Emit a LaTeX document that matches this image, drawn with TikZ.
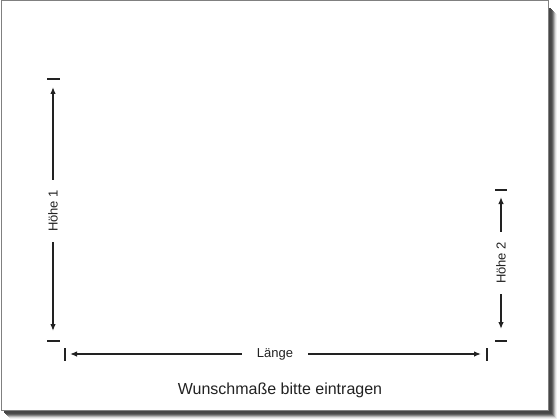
\documentclass[tikz,border=0pt]{standalone}
\usepackage{fontspec}
\setmainfont{Liberation Sans}
\usetikzlibrary{arrows.meta}
\tikzset{
	>={Latex[length=7pt,width=5.5pt]},
}
\definecolor{ink}{HTML}{222222}
\begin{document}
\begin{tikzpicture}[
		x=1pt,y=-1pt,
		dim/.style={draw=ink,line width=1.3pt,->},
		lbl/.style={fill=white,text=ink,font=\fontsize{13}{15}\selectfont,inner xsep=10pt,inner ysep=2pt},
		tick/.style={draw=ink,line width=1.3pt},
	]
	\useasboundingbox (0,0) rectangle (560,420);
	% shadow and sheet
	\foreach \o/\c in {9/black!6,8/black!15,7/black!30,6/black!48,5/black!62,4/black!70,3/black!72}
		\fill[\c] (4+\o-3,8+\o-3) rectangle (548+\o,410+\o);
	\fill[white] (1,1) rectangle (548,410);
	\draw[black!50,line width=1pt] (1,1) rectangle (548,410);
	% Hoehe 1
	\node(h1)[lbl,rotate=90] at (53,211) {Höhe 1};
	\coordinate(h1top) at (53,87);
	\coordinate(h1bot) at (53,331);
	\draw[tick] (47,79) -- (60,79);
	\draw[tick] (47,341) -- (60,341);
	\draw[dim] (h1) -- (h1top);
	\draw[dim] (h1) -- (h1bot);
	% Hoehe 2
	\node(h2)[lbl,rotate=90] at (501,263) {Höhe 2};
	\coordinate(h2top) at (501,197);
	\coordinate(h2bot) at (501,329);
	\draw[tick] (495,190) -- (507,190);
	\draw[tick] (495,341) -- (507,341);
	\draw[dim] (h2) -- (h2top);
	\draw[dim] (h2) -- (h2bot);
	% Laenge
	\node(len)[lbl,inner xsep=15pt] at (275,354) {Länge};
	\coordinate(lenl) at (70,354);
	\coordinate(lenr) at (481,354);
	\draw[tick] (65,348) -- (65,361);
	\draw[tick] (487,348) -- (487,361);
	\draw[dim] (len) -- (lenl);
	\draw[dim] (len) -- (lenr);
	% caption
	\node(note)[text=ink,font=\fontsize{16}{18}\selectfont] at (280,390) {Wunschmaße bitte eintragen};
\end{tikzpicture}
\end{document}
